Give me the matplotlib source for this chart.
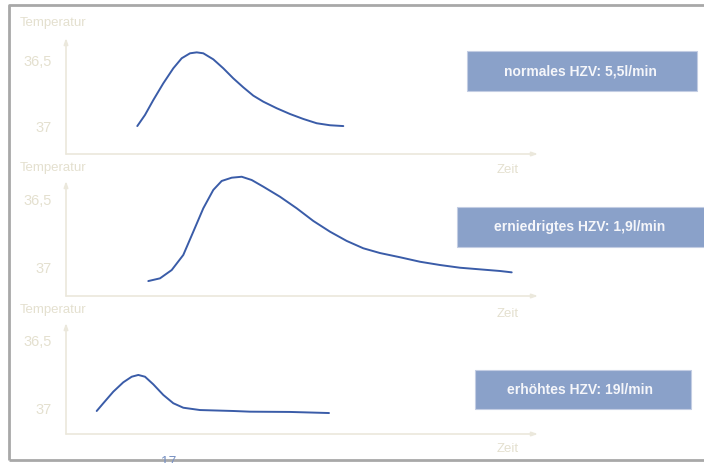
import matplotlib
matplotlib.use("Agg")
import matplotlib.pyplot as plt
from matplotlib.patches import Rectangle

plt.rcParams['font.family'] = ['Liberation Sans', 'DejaVu Sans']

# Thermodilution curves: time (arbitrary units) vs. blood temperature (°C)
t_normal = [7.13, 7.90, 8.73, 9.73, 10.73, 11.57, 12.40, 13.07, 13.73, 14.73, 15.73, 16.73,
            17.73, 18.73, 19.73, 21.07, 22.40, 23.73, 25.07, 26.40, 27.73]
T_normal = [36.993, 36.910, 36.799, 36.674, 36.562, 36.487, 36.450, 36.443, 36.450, 36.495,
            36.562, 36.637, 36.704, 36.766, 36.811, 36.860, 36.903, 36.940, 36.972, 36.987,
            36.993]

t_low = [8.23, 9.40, 10.57, 11.73, 12.73, 13.73, 14.73, 15.57, 16.57, 17.57, 18.57, 19.73,
         21.40, 23.07, 24.73, 26.40, 28.07, 29.73, 31.40, 33.40, 35.40, 37.40, 39.40, 41.40,
         43.40, 44.57]
T_low = [37.096, 37.076, 37.015, 36.904, 36.733, 36.561, 36.426, 36.360, 36.336, 36.329,
         36.353, 36.402, 36.476, 36.561, 36.654, 36.733, 36.801, 36.855, 36.890, 36.921,
         36.954, 36.978, 36.998, 37.010, 37.022, 37.032]

t_high = [3.07, 3.73, 4.73, 5.73, 6.57, 7.23, 7.90, 8.73, 9.73, 10.73, 11.73, 13.40, 16.73,
          18.40, 22.40, 26.30]
T_high = [37.022, 36.965, 36.880, 36.811, 36.770, 36.757, 36.770, 36.826, 36.904, 36.965,
          36.998, 37.015, 37.022, 37.027, 37.029, 37.037]

labels = ["normales HZV: 5,5l/min", "erniedrigtes HZV: 1,9l/min", "erhöhtes HZV: 19l/min"]
tick_vals = [36.5, 37.0]
tick_text = ["36,5", "37"]

W, H = 704, 463
fig = plt.figure(figsize=(W / 100, H / 100), dpi=100)

AXIS_C = "#ebe8dc"
TEXT_C = "#e4e0cf"
LINE_C = "#3a5ca8"
BOX_C = "#8aa1c9"

# background layer in pixel coordinates
bg = fig.add_axes([0, 0, 1, 1])
bg.set_xlim(0, W)
bg.set_ylim(H, 0)
bg.axis("off")
bg.plot([9, 9, W + 5], [460, 5, 5], color="#a8a8a8", lw=2.0, solid_capstyle="butt")
bg.plot([9, W + 5], [460, 460], color="#a8a8a8", lw=2.0, solid_capstyle="butt")

# panel layout: left, right, top, bottom, y-pixel of 37, y-pixel of 36.5
panels = [
    (66, 538, 38, 154, 127, 60),
    (66, 538, 181, 296, 268, 200),
    (66, 538, 323, 434, 408, 340),
]
series = [(t_normal, T_normal), (t_low, T_low), (t_high, T_high)]
boxes = [(467, 51, 230, 40), (457, 207, 255, 40), (475, 370, 216, 39)]
temp_label_y = [23, 168, 310]
zeit_label_y = [170, 314, 449]

for (l, r, top, bot, y37, y365), (tt, TT), box, ty, zy, lab in zip(
        panels, series, boxes, temp_label_y, zeit_label_y, labels):
    ax = fig.add_axes([l / W, 1 - bot / H, (r - l) / W, (bot - top) / H])
    scale = 0.5 / (y37 - y365)
    ax.set_ylim(37 + (bot - y37) * scale, 37 - (y37 - top) * scale)
    ax.set_xlim(0, (r - l) / 10)
    ax.patch.set_alpha(0)
    for s in ax.spines.values():
        s.set_visible(False)
    ax.set_xticks([])
    ax.set_yticks(tick_vals)
    ax.set_yticklabels(tick_text, fontsize=10.5, color=TEXT_C)
    ax.tick_params(axis="y", length=0, pad=10)
    ax.annotate("", xy=(0, 1), xytext=(0, 0), xycoords="axes fraction",
                arrowprops=dict(arrowstyle="-|>,head_length=0.35,head_width=0.12",
                                color=AXIS_C, lw=1.2, shrinkA=0, shrinkB=0))
    ax.annotate("", xy=(1, 0), xytext=(0, 0), xycoords="axes fraction",
                arrowprops=dict(arrowstyle="-|>,head_length=0.35,head_width=0.12",
                                color=AXIS_C, lw=1.2, shrinkA=0, shrinkB=0))
    ax.plot(tt, TT, color=LINE_C, lw=1.4, solid_capstyle="round",
            solid_joinstyle="round", clip_on=False)

    bg.text(20, ty, "Temperatur", fontsize=9.5, color=TEXT_C, ha="left", va="center")
    bg.text(497, zy, "Zeit", fontsize=9.5, color=TEXT_C, ha="left", va="center")

    bx, by, bw, bh = box
    bg.add_patch(Rectangle((bx, by), bw, bh, facecolor=BOX_C, edgecolor="#c3cde3", lw=0.8))
    bg.text(580, by + bh / 2, lab, fontsize=10, fontweight="bold", color="#f5f6fa",
            ha="center", va="center")

bg.text(161, 455, "17", fontsize=10, color="#7a93c4", ha="left", va="top", clip_on=False)

fig.savefig("out.png", dpi=100)
